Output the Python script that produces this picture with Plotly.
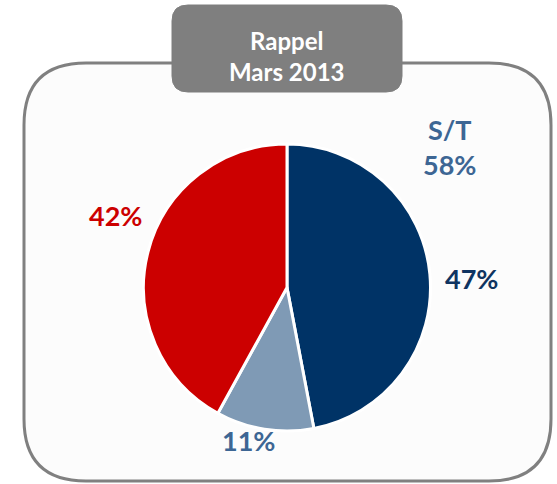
import plotly.graph_objects as go

# Data
categories = ["S/T - part 1", "S/T - part 2", "Autres"]
values = [47, 11, 42]
colors = ["#003366", "#7f9ab5", "#cc0000"]
label_colors = ["#0f3461", "#3d6694", "#cc0000"]
group_label = "S/T"
group_total = values[0] + values[1]
title_lines = ["Rappel", "Mars 2013"]

W, H = 557, 484
FONT = "Lato"


def rounded_rect(x0, y0, x1, y1, r):
    return (f"M {x0+r},{y0} L {x1-r},{y0} Q {x1},{y0} {x1},{y0+r} "
            f"L {x1},{y1-r} Q {x1},{y1} {x1-r},{y1} L {x0+r},{y1} "
            f"Q {x0},{y1} {x0},{y1-r} L {x0},{y0+r} Q {x0},{y0} {x0+r},{y0} Z")


fig = go.Figure()

fig.add_trace(go.Pie(
    labels=categories,
    values=values,
    sort=False,
    direction="clockwise",
    rotation=0,
    marker=dict(colors=colors, line=dict(color="white", width=3)),
    textinfo="none",
    hoverinfo="label+percent",
    showlegend=False,
    domain=dict(x=[143 / W, 431 / W], y=[(H - 431) / H, (H - 144) / H]),
))

shapes = [
    dict(type="path", xref="x", yref="y", layer="below",
         path=rounded_rect(24, 63, 551, 481, 62),
         fillcolor="#fcfcfc", line=dict(color="#808080", width=3)),
    dict(type="path", xref="x", yref="y", layer="below",
         path=rounded_rect(172, 5, 402, 92, 16),
         fillcolor="#7f7f7f", line=dict(color="#7f7f7f", width=1)),
]

annotations = [
    dict(x=287, y=56, text="<b>" + "<br>".join(title_lines) + "</b>",
         font=dict(family=FONT, size=24, color="white")),
    dict(x=449, y=147, text=f"<b>{group_label}<br>{group_total}%</b>",
         font=dict(family=FONT, size=27, color=label_colors[1])),
    dict(x=471, y=278, text=f"<b>{values[0]}%</b>",
         font=dict(family=FONT, size=27, color=label_colors[0])),
    dict(x=248, y=440, text=f"<b>{values[1]}%</b>",
         font=dict(family=FONT, size=27, color=label_colors[1])),
    dict(x=115, y=215, text=f"<b>{values[2]}%</b>",
         font=dict(family=FONT, size=27, color=label_colors[2])),
]
for a in annotations:
    a.update(xref="x", yref="y", showarrow=False, xanchor="center", yanchor="middle")

fig.update_layout(
    width=W, height=H,
    margin=dict(l=0, r=0, t=0, b=0),
    paper_bgcolor="white", plot_bgcolor="rgba(0,0,0,0)",
    xaxis=dict(range=[0, W], visible=False, fixedrange=True),
    yaxis=dict(range=[H, 0], visible=False, fixedrange=True),
    shapes=shapes,
    annotations=annotations,
)

fig.write_html("out.html", config={"displayModeBar": False},
               post_script="document.body.style.margin='0';")
